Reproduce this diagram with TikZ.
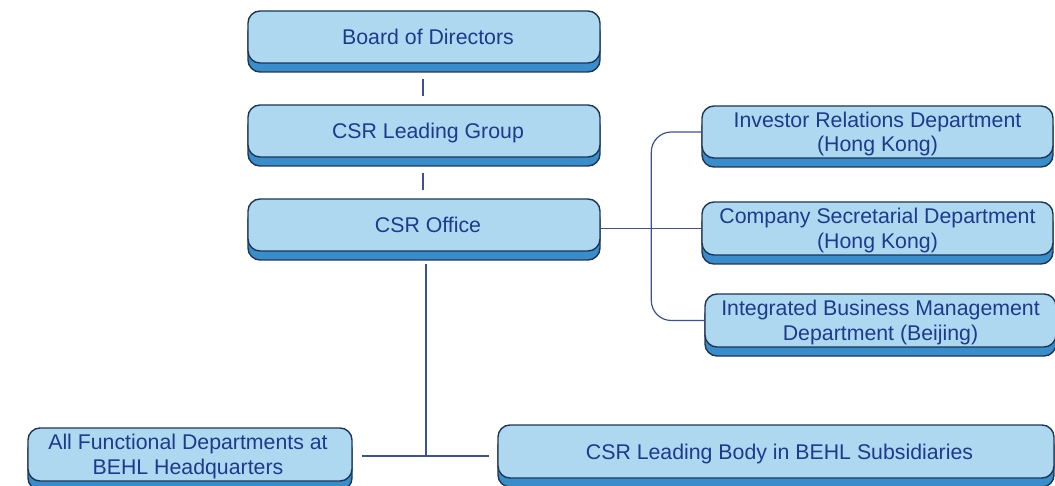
\documentclass[tikz,border=0pt]{standalone}
\usepackage{fontspec}
\setmainfont{Liberation Sans}
\usetikzlibrary{shadows}
\definecolor{facecol}{HTML}{ADD8F0}
\definecolor{bandcol}{HTML}{3A8DCB}
\definecolor{edgecol}{HTML}{1D3656}
\definecolor{txtcol}{HTML}{1E3A8C}
\definecolor{linecol}{HTML}{3F509A}
\newcommand{\bxhs}{\rule{0pt}{20pt}}
\newcommand{\bxds}{\rule[-4.8pt]{0pt}{4.8pt}}
\tikzset{
  orgbox/.style={rectangle, rounded corners=12pt, draw=edgecol, line width=1.4pt,
    fill=facecol, text=txtcol, align=center, inner sep=0pt,
    font=\fontsize{21.3}{24.5}\selectfont,
    execute at begin node=\bxhs, execute at end node=\bxds,
    copy shadow={shadow xshift=0pt, shadow yshift=-9pt, fill=bandcol, draw=edgecol}},
  conn/.style={draw=linecol, line width=1.2pt}
}
\begin{document}
\begin{tikzpicture}[x=1pt,y=-1pt]
\useasboundingbox (0,0) rectangle (1055,486);
\node[orgbox, minimum width=352pt, minimum height=52pt] (board) at (424,37) {\hspace*{8pt}Board of Directors};
\node[orgbox, minimum width=352pt, minimum height=52pt] (lg) at (424,131) {\hspace*{8pt}CSR Leading Group};
\node[orgbox, minimum width=352pt, minimum height=52pt] (office) at (424,225) {\hspace*{8pt}CSR Office};
\node[orgbox, minimum width=351pt, minimum height=52pt] (ir) at (877.5,132) {\bxhs Investor Relations Department\\(Hong Kong)\bxds};
\node[orgbox, minimum width=351pt, minimum height=53pt] (csd) at (877.5,228.5) {\bxhs Company Secretarial Department\\(Hong Kong)\bxds};
\node[orgbox, minimum width=351pt, minimum height=53pt] (ibm) at (880.5,320.5) {\bxhs Integrated Business Management\\Department (Beijing)\bxds};
\node[orgbox, minimum width=324pt, minimum height=53pt] (afd) at (190,454.5) {\bxhs All Functional Departments at\hspace*{4pt}\\BEHL Headquarters\hspace*{4pt}\bxds};
\node[orgbox, minimum width=556pt, minimum height=53pt] (lb) at (776,451.5) {\hspace*{7pt}CSR Leading Body in BEHL Subsidiaries};
\coordinate (j) at (426,456);
\draw[conn] ([xshift=-1pt,yshift=-15pt]board.south) -- ([xshift=-1pt,yshift=8pt]lg.north);
\draw[conn] ([xshift=-1pt,yshift=-15pt]lg.south) -- ([xshift=-1pt,yshift=8pt]office.north);
\draw[conn] (office.east |- csd.west) -- (csd.west);
\draw[conn, rounded corners=20pt] (ir.west) -- ++(-50,0) |- (ibm.west);
\draw[conn] ([xshift=2pt,yshift=-12pt]office.south) -- (j);
\draw[conn] ([xshift=9pt]afd.east |- j) -- ([xshift=-8pt]lb.west |- j);
\end{tikzpicture}
\end{document}
